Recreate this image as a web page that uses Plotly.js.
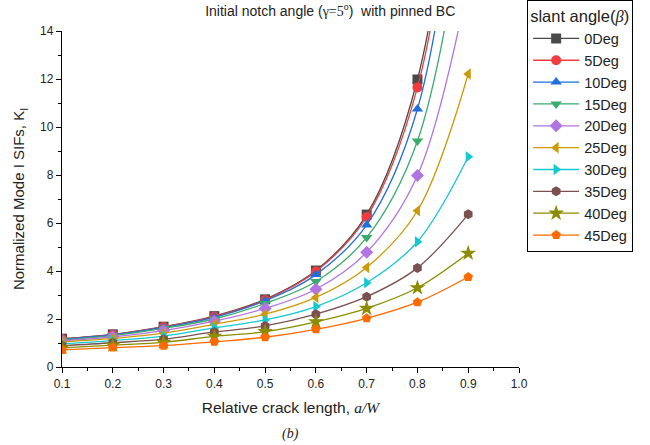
<!DOCTYPE html>
<html>
<head>
<meta charset="utf-8">
<script src="https://cdn.plot.ly/plotly-3.0.1.min.js"></script>
<style>html,body{margin:0;padding:0;background:#fff;}#chart{width:650px;height:445px;}</style>
</head>
<body>
<div id="chart"></div>
<script>
// Relative crack length a/W
const crackLength = [0.1, 0.2, 0.3, 0.4, 0.5, 0.6, 0.7, 0.8, 0.9];
const seriesNames = ['0Deg','5Deg','10Deg','15Deg','20Deg','25Deg','30Deg','35Deg','40Deg','45Deg'];
// Normalized mode I SIFs (values at 0.9 for 0–20Deg lie above the plotted range)
const k0  = [1.18, 1.36, 1.68, 2.12, 2.82, 4.02, 6.35, 11.98, 26.0];
const k5  = [1.17, 1.35, 1.67, 2.10, 2.79, 3.98, 6.25, 11.65, 25.0];
const k10 = [1.16, 1.34, 1.65, 2.07, 2.76, 3.85, 5.92, 10.75, 24.0];
const k15 = [1.13, 1.31, 1.61, 2.00, 2.65, 3.56, 5.40, 9.42, 20.0];
const k20 = [1.09, 1.26, 1.52, 1.91, 2.44, 3.24, 4.78, 7.98, 16.0];
const k25 = [1.04, 1.19, 1.41, 1.78, 2.20, 2.90, 4.15, 6.51, 12.21];
const k30 = [0.97, 1.10, 1.29, 1.63, 1.96, 2.52, 3.51, 5.22, 8.76];
const k35 = [0.89, 1.01, 1.16, 1.46, 1.71, 2.20, 2.93, 4.13, 6.36];
const k40 = [0.80, 0.91, 1.03, 1.28, 1.47, 1.88, 2.44, 3.30, 4.74];
const k45 = [0.71, 0.81, 0.89, 1.05, 1.24, 1.57, 2.03, 2.70, 3.75];
const seriesValues = [k0, k5, k10, k15, k20, k25, k30, k35, k40, k45];
const colors = ['#4a4a4a','#f03c3c','#1f6fdc','#3aab6e','#b274e0','#cc9a06','#16c8d0','#7a5050','#8c8c00','#ff6a00'];
const symbols = ['square','circle','triangle-up','triangle-down','diamond','triangle-left','triangle-right','hexagon','star','pentagon'];
const xTicks = [0.1,0.2,0.3,0.4,0.5,0.6,0.7,0.8,0.9,1.0];
const xTickText = ['0.1','0.2','0.3','0.4','0.5','0.6','0.7','0.8','0.9','1.0'];
const yTicks = [0,2,4,6,8,10,12,14];

const traces = seriesNames.map((name, i) => ({
  x: crackLength,
  y: seriesValues[i],
  name: name,
  type: 'scatter',
  mode: 'lines+markers',
  line: {color: colors[i], width: 1.3, shape: 'spline', smoothing: 1},
  marker: {symbol: symbols[i], color: colors[i], size: symbols[i]==='star' ? 12 : 10, line: {width: 0}},
  cliponaxis: true
}));

const font = 'Liberation Sans, Arial, sans-serif';
const serif = 'Liberation Serif, Times New Roman, serif';

const layout = {
  width: 650, height: 445,
  margin: {l: 62, r: 131, t: 31, b: 78},
  paper_bgcolor: '#fff', plot_bgcolor: '#fff',
  font: {family: font, size: 12, color: '#222'},
  showlegend: true,
  title: {
    text: "Initial notch angle (<span style='font-family:" + serif + "'>γ=5<sup>o</sup></span>)  with pinned BC",
    font: {family: font, size: 14, color: '#222'},
    x: 0.508, xanchor: 'center', y: 0.975, yanchor: 'middle'
  },
  xaxis: {
    range: [0.1, 1.0],
    tickvals: xTicks, ticktext: xTickText,
    ticks: 'outside', ticklen: 5, tickwidth: 1, tickcolor: '#000',
    minor: {dtick: 0.05, tick0: 0.1, ticks: 'outside', ticklen: 3, tickcolor: '#000', showgrid: false},
    showline: true, linecolor: '#000', linewidth: 1.2,
    showgrid: false, zeroline: false,
    tickfont: {family: font, size: 12, color: '#222'},
    title: {text: "Relative crack length, <span style='font-family:" + serif + "'><i>a/W</i></span>", font: {family: font, size: 15.5, color: '#222'}, standoff: 12}
  },
  yaxis: {
    range: [0, 14],
    tickvals: yTicks,
    ticks: 'outside', ticklen: 5, tickwidth: 1, tickcolor: '#000',
    minor: {dtick: 1, tick0: 0, ticks: 'outside', ticklen: 3, tickcolor: '#000', showgrid: false},
    showline: true, linecolor: '#000', linewidth: 1.2,
    showgrid: false, zeroline: false,
    tickfont: {family: font, size: 12, color: '#222'},
    title: {text: 'Normalized Mode I SIFs, K<sub>I</sub>', font: {family: font, size: 15, color: '#222'}, standoff: 11}
  },
  legend: {
    xref: 'container', yref: 'container',
    x: 0.811, xanchor: 'left', y: 1.0, yanchor: 'top',
    maxheight: 440,
    bordercolor: '#000', borderwidth: 1, bgcolor: '#fff',
    font: {family: font, size: 14.5, color: '#222'},
    itemwidth: 46, tracegroupgap: 0,
    title: {text: "slant angle(<span style='font-family:" + serif + "'><i>β</i></span>)", font: {family: font, size: 16.5, color: '#222'}}
  },
  annotations: [{
    text: "<i>(b)</i>", xref: 'paper', yref: 'paper', x: 0.5, y: -0.2, xanchor: 'center', yanchor: 'middle',
    showarrow: false, font: {family: serif, size: 14, color: '#222'}
  }]
};

Plotly.newPlot('chart', traces, layout, {displayModeBar: false, staticPlot: true});
</script>
</body>
</html>
